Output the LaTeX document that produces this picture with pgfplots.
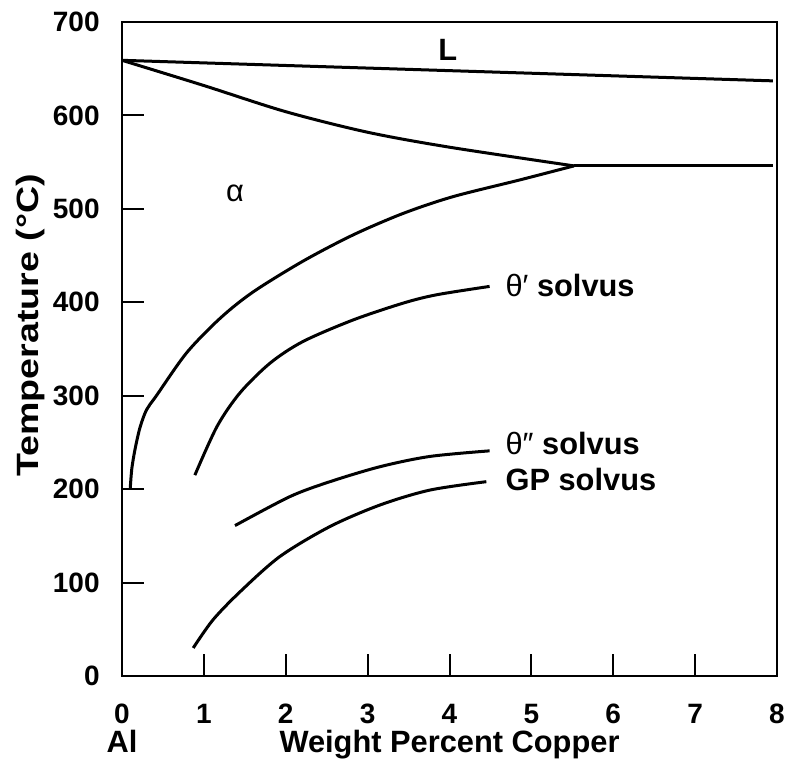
\documentclass[border=0pt]{standalone}
\usepackage{fontspec}
\setmainfont{Liberation Sans}
\usepackage{graphicx}
\usepackage{pgfplots}
\pgfplotsset{compat=1.18}
\newcommand{\tickfont}{\fontsize{14}{17}\selectfont\bfseries}
\newcommand{\labfont}{\fontsize{15.4}{18}\selectfont\bfseries}
\newcommand{\tl}[1]{\mbox{\tickfont #1}}
\begin{document}
\begin{tikzpicture}
\begin{axis}[
  scale only axis,
  width=327.5pt, height=327pt,
  xmin=0, xmax=8, ymin=0, ymax=700,
  xtick={0,1,...,8}, ytick={0,100,...,700},
  xticklabels={\tl{0},\tl{1},\tl{2},\tl{3},\tl{4},\tl{5},\tl{6},\tl{7},\tl{8}},
  yticklabels={\tl{0},\tl{100},\tl{200},\tl{300},\tl{400},\tl{500},\tl{600},\tl{700}},
  axis line style={line width=1pt},
  tick align=inside, xtick pos=bottom, ytick pos=left,
  major tick length=11pt,
  tick style={line width=1pt, black},
  xticklabel style={anchor=base, yshift=-23.5pt},
  yticklabel style={anchor=east, inner sep=0pt, xshift=-11pt},
  xlabel={Weight Percent Copper},
  ylabel={\scalebox{1.22}[1]{\fontsize{15.4}{18}\selectfont\bfseries Temperature (°C)}},
  xlabel style={font=\labfont, at={(axis description cs:0.5,-0.1177)}, anchor=base},
  ylabel style={at={(axis description cs:-0.1278,0.536)}, anchor=base},
  clip=false,
]
% liquidus
\addplot[black, line width=1.5pt] coordinates {(0,659) (7.95,637)};
% solidus + eutectic line
\addplot[black, line width=1.5pt, smooth] coordinates {
  (0,659) (1.0,632) (2.0,604) (3.0,582) (4.0,566) (5.52,546)};
\addplot[black, line width=1.5pt] coordinates {(5.52,546) (7.95,546)};
% alpha solvus
\addplot[black, line width=1.5pt, smooth] coordinates {
  (0.10,200) (0.12,222) (0.16,243) (0.22,266) (0.30,285) (0.42,300) (0.79,346) (1.2,383) (1.6,411) (2.21,444) (2.82,472) (3.43,495) (4.04,513) (4.86,531) (5.52,546)};
% theta' solvus
\addplot[black, line width=1.5pt, smooth] coordinates {
  (0.89,215) (1.16,267) (1.44,303) (1.81,335) (2.21,358) (2.82,381) (3.43,399) (3.84,408) (4.49,417)};
% theta'' solvus
\addplot[black, line width=1.5pt, smooth] coordinates {
  (1.38,161) (2.05,192) (2.54,208) (3.15,224) (3.76,235) (4.49,241)};
% GP solvus
\addplot[black, line width=1.5pt, smooth] coordinates {
  (0.87,30) (1.11,60) (1.44,90) (1.93,128) (2.54,160) (3.15,183) (3.76,199) (4.45,208)};
\node[font=\labfont] at (axis cs:3.98,670) {L};
\node[font=\labfont\mdseries] at (axis cs:1.38,517) {α};
\node[font=\labfont, anchor=west, inner sep=0pt] at (axis cs:4.68,418) {{\mdseries θ′} solvus};
\node[font=\labfont, anchor=west, inner sep=0pt] at (axis cs:4.68,249) {{\mdseries θ″} solvus};
\node[font=\labfont, anchor=west, inner sep=0pt] at (axis cs:4.68,210) {GP solvus};
\node[font=\labfont, anchor=base] at (axis description cs:0,-0.1177) {Al};
\end{axis}
\pgfresetboundingbox
\path (current axis.south west) ++(-61pt,-44pt) coordinate (bbsw);
\path (current axis.north east) ++(5pt,11pt) coordinate (bbne);
\useasboundingbox (bbsw) rectangle (bbne);
\end{tikzpicture}
\end{document}
